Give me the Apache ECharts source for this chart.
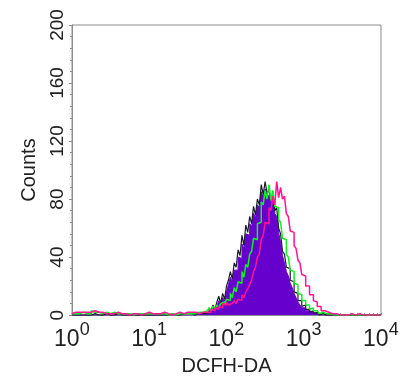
<!DOCTYPE html>
<html>
<head>
<meta charset="utf-8">
<script src="https://cdn.jsdelivr.net/npm/echarts@6/dist/echarts.min.js"></script>
<style>html,body{margin:0;padding:0;background:#fff}#c{width:411px;height:381px}</style>
</head>
<body>
<div id="c"></div>
<script>
// Histogram bins: 40 bins per decade, from 10^0 to 10^4 (log10 of DCFH-DA)
const binsPerDecade = 40;
const xTickExponents = ['0', '1', '2', '3', '4'];
const yTicks = [0, 40, 80, 120, 160, 200];

const purpleCounts = [
  0,0,0,0,0,0,0,0,0,0, 0,0,0,0,0,0,0,0,0,0, 0,0,0,0,0,0,0,0,0,0, 0,0,0,0,0,0,0,0,0,0,
  0,0,0,0,0,0,0,0,0,0, 0,0,0,0,0,0,0,0,0,0, 0,0,1,0,1,1,1,1,1,2,
  1,3,2,5,3,6,10,7,12,10, 16,21,26,23,31,31,40,39,49,46,
  56,55,63,61,70,67,76,74,85,81, 87,82,83,78,79,70,68,57,50,41,
  36,30,27,22,19,15,12,9,7,5, 5,3,3,2,2,1,1,0,0,0,
  0,0,0,0,0,0,0,0,0,0, 0,0,0,0,0,0,0,0,0,0, 0,0,0,0,0,0,0,0,0,0
];
const blackCounts = [
  0,0,1,0,0,0,1,0,0,0, 0,1,0,0,0,0,0,1,0,0, 0,0,0,1,0,0,0,0,0,0, 0,0,0,0,1,0,0,0,0,0,
  0,0,0,0,0,0,1,0,0,0, 0,1,0,0,0,0,0,1,0,1, 0,1,1,0,1,2,1,2,1,2,
  2,5,3,7,4,9,13,8,15,11, 20,24,30,25,36,33,45,41,55,48,
  62,57,68,63,75,69,80,76,90,83, 92,84,86,80,83,72,74,60,56,44,
  42,33,32,24,23,16,15,10,10,6, 7,4,4,2,3,1,2,1,0,1,
  0,0,0,0,0,0,0,0,0,0, 0,0,0,0,0,0,0,0,0,0, 0,0,0,0,0,0,0,0,0,0
];
const greenCounts = [
  1,1,2,1,1,2,1,1,2,1, 3,2,1,2,2,1,1,2,1,1, 1,2,1,1,0,1,1,1,0,1, 1,0,1,1,2,1,0,1,1,1,
  0,1,1,1,0,1,1,1,1,0, 1,1,1,0,1,1,2,1,1,1, 2,1,2,1,2,2,3,2,2,3,
  3,5,3,6,4,7,5,8,9,7, 11,10,15,12,19,16,23,22,30,26,
  35,33,42,44,53,52,63,64,78,76, 86,80,90,79,86,75,74,66,64,53,
  52,42,40,31,30,22,21,15,14,10, 10,7,7,4,5,3,3,2,1,2,
  1,1,0,1,0,0,1,0,0,0, 0,0,0,0,0,0,0,0,0,0, 0,0,0,0,0,0,0,0,0,0
];
const magentaCounts = [
  1,2,1,2,3,2,1,2,1,2, 2,3,4,2,3,2,2,1,2,1, 2,1,1,2,1,1,2,1,1,0, 1,1,2,1,1,0,1,1,1,2,
  1,1,0,1,1,1,1,2,1,1, 1,0,1,1,1,2,1,1,1,2, 1,2,1,2,2,1,2,2,3,2,
  3,2,4,3,5,4,6,5,8,7, 9,7,8,8,10,8,11,10,14,12,
  16,18,21,24,30,33,40,42,52,55, 64,63,74,72,82,76,92,81,88,80,
  82,70,68,58,57,48,46,38,36,28, 27,20,20,14,14,10,9,6,6,3,
  3,3,2,2,1,2,1,1,0,1, 0,1,0,0,1,0,0,0,1,0, 0,0,0,1,0,0,0,0,0,0
];

function toPoints(counts) {
  const pts = counts.map((c, i) => [i / binsPerDecade, c]);
  pts.push([counts.length / binsPerDecade, counts[counts.length - 1]]);
  return pts;
}

// tick positions (log10 of 1..9 x 10^d) for the log-style minor ticks
const xTickPositions = [];
for (let d = 0; d < 4; d++) {
  for (let k = 1; k <= 9; k++) xTickPositions.push(d + Math.log10(k));
}
xTickPositions.push(4);

const axisGray = '#8c8c8c';
const font = 'Liberation Sans';

const chart = echarts.init(document.getElementById('c'), null, { renderer: 'canvas' });
chart.setOption({
  animation: false,
  backgroundColor: '#ffffff',
  grid: { left: 72, right: 30, top: 25, bottom: 60, show: true, borderColor: axisGray, borderWidth: 1, backgroundColor: 'transparent' },
  xAxis: {
    type: 'value', min: 0, max: 4, interval: 1,
    name: 'DCFH-DA', nameLocation: 'middle', nameGap: 37,
    nameTextStyle: { fontFamily: font, fontSize: 20, color: '#222' },
    axisLine: { show: true, lineStyle: { color: axisGray, width: 1 } },
    axisTick: { show: true, inside: true, length: 2, customValues: xTickPositions, lineStyle: { color: axisGray } },
    splitLine: { show: false },
    axisLabel: {
      customValues: [0, 1, 2, 3, 4],
      margin: 1,
      verticalAlign: 'top',
      fontFamily: font, color: '#222',
      formatter: function (v) { return '{b|10}{s|' + xTickExponents[Math.round(v)] + '}{h| }'; },
      rich: {
        b: { fontFamily: font, fontSize: 23, lineHeight: 23, color: '#222', verticalAlign: 'bottom' },
        s: { fontFamily: font, fontSize: 18, lineHeight: 18, color: '#222', verticalAlign: 'top', padding: [5, 0, 0, 0] },
        h: { fontFamily: font, fontSize: 1, lineHeight: 35 }
      }
    }
  },
  yAxis: {
    type: 'value', min: 0, max: 200, interval: 40,
    name: 'Counts', nameLocation: 'middle', nameGap: 33, nameRotate: 90,
    nameTextStyle: { fontFamily: font, fontSize: 20, color: '#222' },
    axisLine: { show: true, lineStyle: { color: axisGray, width: 1 } },
    axisTick: { show: true, inside: false, length: 3, lineStyle: { color: axisGray } },
    minorTick: { show: true, splitNumber: 5, length: 2, lineStyle: { color: axisGray } },
    splitLine: { show: false },
    axisLabel: {
      rotate: 90, margin: 5, fontFamily: font, fontSize: 19, color: '#222',
      formatter: function (v) { return yTicks.indexOf(v) >= 0 ? String(v) : ''; }
    }
  },
  series: [
    {
      name: 'purple', type: 'line', step: 'end', showSymbol: false, symbol: 'none',
      data: toPoints(purpleCounts),
      lineStyle: { color: '#6a00cc', width: 1 },
      areaStyle: { color: '#6600cc', opacity: 1 },
      z: 2
    },
    {
      name: 'black', type: 'line', step: 'end', showSymbol: false, symbol: 'none',
      data: toPoints(blackCounts),
      lineStyle: { color: '#1c1c2c', width: 1.2 },
      z: 3
    },
    {
      name: 'green', type: 'line', step: 'end', showSymbol: false, symbol: 'none',
      data: toPoints(greenCounts),
      lineStyle: { color: '#11ee22', width: 1.5 },
      z: 4
    },
    {
      name: 'magenta', type: 'line', step: 'end', showSymbol: false, symbol: 'none',
      data: toPoints(magentaCounts),
      lineStyle: { color: '#ff1493', width: 1.5 },
      z: 5
    }
  ]
});
</script>
</body>
</html>
